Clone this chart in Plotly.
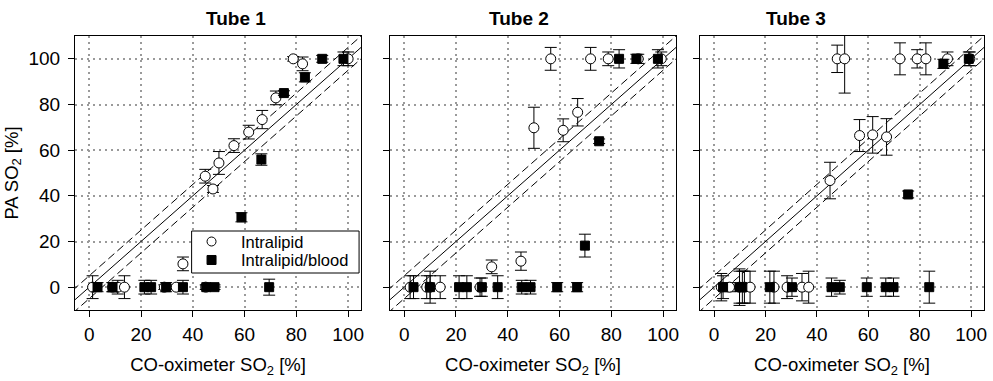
import plotly.graph_objects as go

# ---- data: CO-oximeter SO2 (x), photoacoustic SO2 (y), error (+/-) ----
# Tube 1
t1_il_x = [1.3, 9.0, 11.0, 13.6, 29.0, 33.6, 36.2, 45.0, 44.8, 47.8, 50.1, 55.9, 61.6, 66.8, 72.1, 78.8, 82.4, 100.0]
t1_il_y = [0, 0, 0, 0, 0, 0, 10.2, 0, 48.6, 43.0, 54.4, 62.0, 67.9, 73.4, 82.9, 100, 97.8, 100]
t1_il_e = [5, 2, 3, 5, 1, 1, 3, 1, 3, 1.5, 5, 3, 3, 4, 3, 1, 3, 3]
t1_bl_x = [3.2, 9.0, 21.3, 23.9, 29.7, 36.2, 45.2, 48.4, 58.8, 66.5, 69.5, 75.2, 83.3, 90.0, 98.2]
t1_bl_y = [0, 0, 0, 0, 0, 0, 0, 0, 30.6, 55.9, 0, 85.0, 91.9, 100, 100]
t1_bl_e = [2, 2, 3, 3, 2, 3, 1, 1, 2, 2.5, 3.5, 1, 2, 1.5, 3]

# Tube 2
t2_il_x = [2.3, 8.7, 10.0, 13.9, 29.3, 33.8, 45.1, 50.1, 56.6, 61.4, 67.0, 72.0, 78.8, 90.4, 99.3]
t2_il_y = [0, 0, 0, 0, 0, 8.9, 11.4, 69.8, 100, 68.7, 76.6, 100, 100, 100, 100]
t2_il_e = [5, 5, 7, 5, 4, 3, 4, 9, 5, 5, 6, 5, 3, 2, 3]
t2_bl_x = [3.6, 10.0, 21.2, 24.2, 30.0, 36.1, 45.4, 48.8, 59.1, 66.8, 69.8, 75.3, 83.0, 89.7, 98.0]
t2_bl_y = [0, 0, 0, 0, 0, 0, 0, 0, 0, 0, 18.2, 63.9, 100, 100, 100]
t2_bl_e = [5, 5, 5, 5, 4, 5, 3, 3, 2, 2, 5, 1, 4, 2, 4]

# Tube 3
t3_il_x = [2.8, 6.0, 9.9, 11.8, 14.0, 23.3, 28.4, 34.2, 36.8, 45.1, 47.9, 50.8, 56.6, 61.7, 67.1, 72.3, 79.0, 82.4, 90.8, 99.5]
t3_il_y = [0, 0, 0, 0, 0, 0, 0, 0, 0, 46.7, 100, 100, 66.4, 66.7, 65.8, 100, 100, 100, 100, 100]
t3_il_e = [6, 2, 8, 7, 7, 7, 5, 6, 7, 8, 6, 15, 7, 8, 8, 7, 4, 7, 3, 3]
t3_bl_x = [3.5, 9.9, 11.0, 21.7, 30.3, 45.7, 48.9, 59.4, 66.8, 69.8, 75.5, 83.7, 89.2, 99.1]
t3_bl_y = [0, 0, 0, 0, 0, 0, 0, 0, 0, 0, 40.6, 0, 97.8, 100]
t3_bl_e = [5, 7, 7, 7, 4, 4, 3, 4, 4, 4, 1.5, 7, 2, 3]

tube_titles = ["Tube 1", "Tube 2", "Tube 3"]
series_names = ["Intralipid", "Intralipid/blood"]
tick_vals = [0, 20, 40, 60, 80, 100]
identity_x = [-10, 120]          # span of the line of identity
agreement_band = 5               # +/- band around identity (dashed)

tubes = [
    (t1_il_x, t1_il_y, t1_il_e, t1_bl_x, t1_bl_y, t1_bl_e),
    (t2_il_x, t2_il_y, t2_il_e, t2_bl_x, t2_bl_y, t2_bl_e),
    (t3_il_x, t3_il_y, t3_il_e, t3_bl_x, t3_bl_y, t3_bl_e),
]

FONT = "Liberation Sans, Arial, sans-serif"
fig = go.Figure()

domains = [[0.0, 0.3147], [0.3465, 0.6612], [0.6875, 1.0]]

for i, (ilx, ily, ile, blx, bly, ble) in enumerate(tubes):
    sfx = "" if i == 0 else str(i + 1)
    xa, ya = "x" + sfx, "y" + sfx

    # identity line and agreement band
    fig.add_trace(go.Scatter(x=identity_x, y=identity_x, mode="lines",
                             line=dict(color="black", width=1),
                             xaxis=xa, yaxis=ya, showlegend=False, hoverinfo="skip"))
    for s in (1, -1):
        fig.add_trace(go.Scatter(x=identity_x, y=[v + s * agreement_band for v in identity_x],
                                 mode="lines", line=dict(color="black", width=1, dash="8px,4px"),
                                 xaxis=xa, yaxis=ya, showlegend=False, hoverinfo="skip"))

    fig.add_trace(go.Scatter(
        x=ilx, y=ily, mode="markers", name=series_names[0],
        marker=dict(symbol="circle", size=10, color="white", line=dict(color="black", width=1)),
        error_y=dict(type="data", array=ile, visible=True, color="black", thickness=1, width=6),
        xaxis=xa, yaxis=ya, showlegend=False))
    fig.add_trace(go.Scatter(
        x=blx, y=bly, mode="markers", name=series_names[1],
        marker=dict(symbol="square", size=9, color="black", line=dict(color="black", width=1)),
        error_y=dict(type="data", array=ble, visible=True, color="black", thickness=1, width=6),
        xaxis=xa, yaxis=ya, showlegend=False))

    axis_common = dict(
        tickvals=tick_vals, ticks="outside", ticklen=6, tickcolor="black", tickwidth=1,
        showline=True, linecolor="black", linewidth=1, mirror=True,
        showgrid=True, gridcolor="#9a9a9a", gridwidth=2, griddash="2px,4px",
        zeroline=False, tickfont=dict(family=FONT, size=19, color="black"),
    )
    fig.update_layout({
        "xaxis" + sfx: dict(axis_common, domain=domains[i], range=[-5.5, 105], anchor=ya,
                            ticklabelstandoff=1,
                            title=dict(text="CO-oximeter SO<sub>2</sub> [%]", standoff=14,
                                       font=dict(family=FONT, size=18.5, color="black"))),
        "yaxis" + sfx: dict(axis_common, range=[-10, 110], anchor=xa, showticklabels=(i == 0),
                            ticklabelstandoff=4),
    })
    fig.add_annotation(text="<b>" + tube_titles[i] + "</b>", xref="paper", yref="paper",
                       x=(domains[i][0] + domains[i][1]) / 2, y=1.0, yshift=18, xshift=-14,
                       showarrow=False, yanchor="middle",
                       font=dict(family=FONT, size=19, color="black"))

# ---- legend box inside Tube 1 panel (paper coordinates) ----
leg_x0, leg_x1, leg_y0, leg_y1 = 0.1283, 0.3125, 0.135, 0.2883
leg_sym_x, leg_text_x = 0.1502, 0.1800
leg_rows = [0.2500, 0.1825]
fig.add_shape(type="rect", xref="paper", yref="paper", x0=leg_x0, x1=leg_x1, y0=leg_y0, y1=leg_y1,
              fillcolor="white", line=dict(color="black", width=1), layer="above")
fig.add_shape(type="circle", xref="paper", yref="paper", xsizemode="pixel", ysizemode="pixel",
              xanchor=leg_sym_x, yanchor=leg_rows[0], x0=-4.5, x1=4.5, y0=-4.5, y1=4.5,
              fillcolor="white", line=dict(color="black", width=1), layer="above")
fig.add_shape(type="rect", xref="paper", yref="paper", xsizemode="pixel", ysizemode="pixel",
              xanchor=leg_sym_x, yanchor=leg_rows[1], x0=-4.5, x1=4.5, y0=-4.5, y1=4.5,
              fillcolor="black", line=dict(color="black", width=1), layer="above")
for name, ry in zip(series_names, leg_rows):
    fig.add_annotation(text=name, xref="paper", yref="paper", x=leg_text_x, y=ry,
                       xanchor="left", yanchor="middle", showarrow=False,
                       font=dict(family=FONT, size=16.5, color="black"))

fig.update_layout(
    yaxis_title=dict(text="PA SO<sub>2</sub> [%]", standoff=5,
                     font=dict(family=FONT, size=18.5, color="black")),
    width=993, height=381,
    margin=dict(l=75, r=6, t=36, b=71),
    paper_bgcolor="white", plot_bgcolor="white",
    showlegend=False,
    font=dict(family=FONT, color="black"),
)

fig.write_html("out.html")
